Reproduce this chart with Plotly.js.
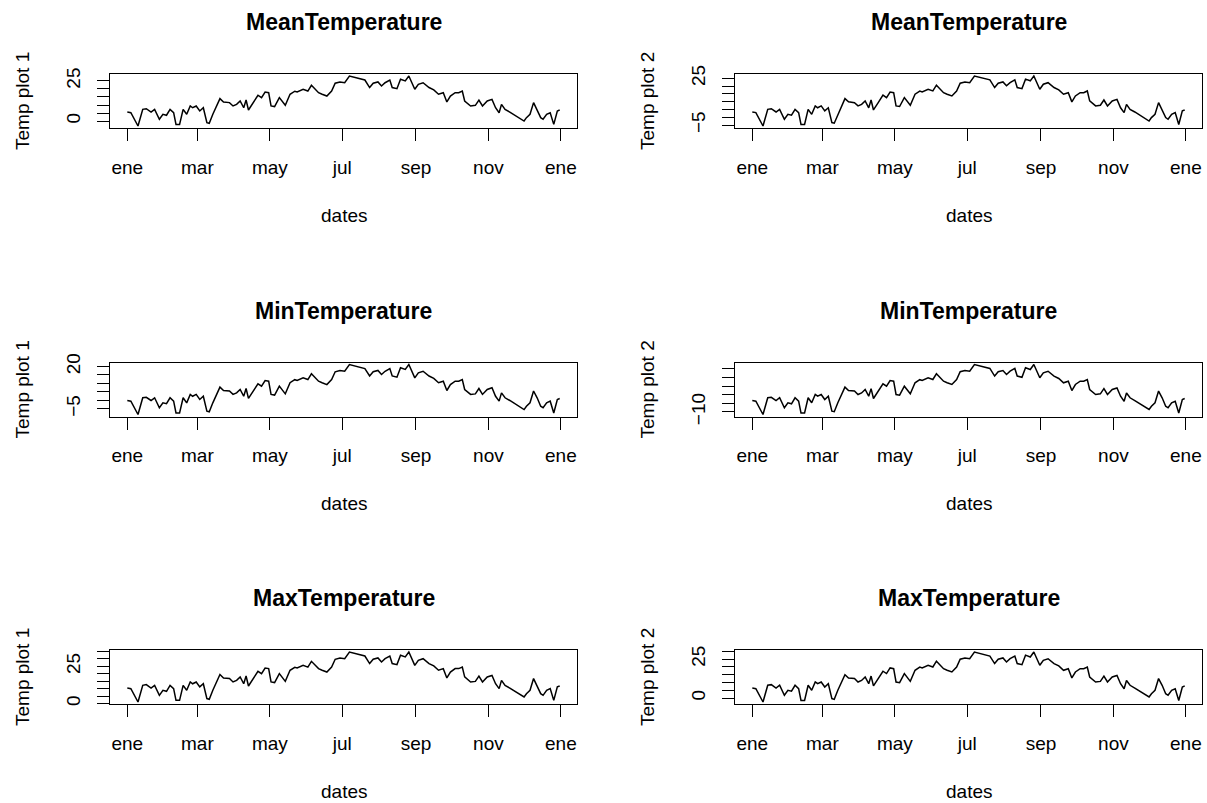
<!DOCTYPE html>
<html><head><meta charset="utf-8">
<script src="https://cdn.plot.ly/plotly-3.0.1.min.js"></script>
<style>html,body{margin:0;padding:0;background:#fff;overflow:hidden}</style>
</head><body><div id="chart" style="width:1207px;height:803px"></div>
<script>
// day of year (0 = 1 Jan) at which each value was read
const days = [0,3,9,13,16,20,23,27,30,33,36,39,41,44,47,50,53,55,58,61,64,67,69,72,78,81,86,89,92,95,98,100,102,106,110,113,116,119,121,124,128,133,137,141,143,148,152,155,158,161,164,168,172,175,179,183,187,192,196,200,204,207,211,214,217,221,223,227,230,234,237,240,242,245,249,254,258,262,266,269,272,276,279,282,284,289,293,296,299,303,307,310,313,315,318,322,327,331,334,336,339,342,345,348,350,353,356,359,362,364];

const meanTemp1 = [5.6,5.2,-3.1,7.3,7.7,5.6,7.3,1.1,4.2,3.6,7.3,5.2,-2.1,-2.1,7.3,4.2,9.4,8.3,9.4,6.3,8.3,-1.0,-1.4,4.2,14.0,11.9,11.5,9.4,10.4,12.5,8.3,13.1,6.9,11.5,16.1,14.6,18.1,17.7,9.4,9.0,14.6,9.8,16.7,18.6,18.1,19.8,18.7,22.3,19.8,17.7,16.7,15.6,18.7,23.6,24.4,23.9,28.1,27.1,26.5,25.6,20.9,23.6,24.4,21.9,23.9,25.6,20.9,20.2,26.1,25.0,28.1,22.9,19.8,22.9,23.9,20.9,19.4,16.7,17.7,11.9,15.6,17.7,17.7,18.7,12.5,9.4,9.8,13.1,9.4,12.5,13.5,8.3,5.2,10.4,7.3,5.6,3.1,1.1,0.0,2.1,4.2,11.5,7.3,2.1,1.1,4.2,5.2,-2.1,6.3,6.9];

const meanTemp2 = [3.4,3.0,-5.6,5.1,5.5,3.4,5.1,-1.3,1.9,1.3,5.1,3.0,-4.6,-4.6,5.1,1.9,7.3,6.1,7.3,4.1,6.1,-3.4,-3.8,1.9,12.0,9.9,9.4,7.3,8.3,10.5,6.1,11.1,4.7,9.4,14.2,12.6,16.2,15.8,7.3,6.9,12.6,7.7,14.8,16.8,16.2,18.0,16.9,20.6,18.0,15.8,14.8,13.7,16.9,21.9,22.7,22.2,26.5,25.5,24.9,24.0,19.1,21.9,22.7,20.2,22.2,24.0,19.1,18.4,24.5,23.4,26.5,21.2,18.0,21.2,22.2,19.1,17.6,14.8,15.8,9.9,13.7,15.8,15.8,16.9,10.5,7.3,7.7,11.1,7.3,10.5,11.5,6.1,3.0,8.3,5.1,3.4,0.8,-1.3,-2.4,-0.2,1.9,9.4,5.1,-0.2,-1.3,1.9,3.0,-4.6,4.1,4.7];

const minTemp1 = [-0.1,-0.5,-8.4,1.5,1.8,-0.1,1.5,-4.4,-1.5,-2.0,1.5,-0.5,-7.5,-7.5,1.5,-1.5,3.5,2.4,3.5,0.5,2.4,-6.4,-6.8,-1.5,7.8,5.8,5.5,3.5,4.4,6.4,2.4,7.0,1.1,5.5,9.8,8.4,11.7,11.3,3.5,3.1,8.4,3.8,10.4,12.2,11.7,13.3,12.3,15.7,13.3,11.3,10.4,9.3,12.3,16.9,17.7,17.2,21.2,20.3,19.7,18.8,14.4,16.9,17.7,15.3,17.2,18.8,14.4,13.7,19.3,18.3,21.2,16.3,13.3,16.3,17.2,14.4,13.0,10.4,11.3,5.8,9.3,11.3,11.3,12.3,6.4,3.5,3.8,7.0,3.5,6.4,7.4,2.4,-0.5,4.4,1.5,-0.1,-2.5,-4.4,-5.5,-3.5,-1.5,5.5,1.5,-3.5,-4.4,-1.5,-0.5,-7.5,0.5,1.1];

const minTemp2 = [-3.4,-3.8,-11.5,-1.8,-1.5,-3.4,-1.8,-7.6,-4.7,-5.3,-1.8,-3.8,-10.6,-10.6,-1.8,-4.7,0.1,-0.9,0.1,-2.8,-0.9,-9.6,-9.9,-4.7,4.4,2.4,2.1,0.1,1.0,3.0,-0.9,3.5,-2.2,2.1,6.3,4.9,8.2,7.8,0.1,-0.3,4.9,0.5,6.9,8.7,8.2,9.8,8.8,12.1,9.8,7.8,6.9,5.9,8.8,13.3,14.0,13.6,17.5,16.6,16.0,15.2,10.8,13.3,14.0,11.7,13.6,15.2,10.8,10.1,15.6,14.6,17.5,12.7,9.8,12.7,13.6,10.8,9.4,6.9,7.8,2.4,5.9,7.8,7.8,8.8,3.0,0.1,0.5,3.5,0.1,3.0,3.9,-0.9,-3.8,1.0,-1.8,-3.4,-5.7,-7.6,-8.6,-6.7,-4.7,2.1,-1.8,-6.7,-7.6,-4.7,-3.8,-10.6,-2.8,-2.2];

const maxTemp1 = [10.4,10.0,1.0,12.2,12.7,10.4,12.2,5.5,8.9,8.2,12.2,10.0,2.1,2.1,12.2,8.9,14.5,13.3,14.5,11.2,13.3,3.3,2.8,8.9,19.5,17.2,16.8,14.5,15.6,17.9,13.3,18.5,11.8,16.8,21.7,20.1,23.9,23.5,14.5,14.1,20.1,14.9,22.4,24.4,23.9,25.7,24.5,28.4,25.7,23.5,22.4,21.2,24.5,29.8,30.7,30.2,34.7,33.6,33.0,32.0,26.9,29.8,30.7,28.0,30.2,32.0,26.9,26.2,32.5,31.4,34.7,29.1,25.7,29.1,30.2,26.9,25.3,22.4,23.5,17.2,21.2,23.5,23.5,24.5,17.9,14.5,14.9,18.5,14.5,17.9,18.9,13.3,10.0,15.6,12.2,10.4,7.7,5.5,4.4,6.6,8.9,16.8,12.2,6.6,5.5,8.9,10.0,2.1,11.2,11.8];

const maxTemp2 = [6.4,6.0,-2.5,8.2,8.6,6.4,8.2,1.8,5.0,4.4,8.2,6.0,-1.5,-1.5,8.2,5.0,10.3,9.2,10.3,7.1,9.2,-0.3,-0.8,5.0,15.0,12.9,12.5,10.3,11.3,13.5,9.2,14.1,7.8,12.5,17.2,15.7,19.3,18.8,10.3,9.9,15.7,10.7,17.8,19.8,19.3,21.0,19.9,23.6,21.0,18.8,17.8,16.7,19.9,24.9,25.7,25.2,29.5,28.5,27.9,26.9,22.1,24.9,25.7,23.1,25.2,26.9,22.1,21.4,27.5,26.3,29.5,24.2,21.0,24.2,25.2,22.1,20.6,17.8,18.8,12.9,16.7,18.8,18.8,19.9,13.5,10.3,10.7,14.1,10.3,13.5,14.5,9.2,6.0,11.3,8.2,6.4,3.9,1.8,0.7,2.8,5.0,12.5,8.2,2.8,1.8,5.0,6.0,-1.5,7.1,7.8];

const monthTickDates = ['2019-01-01','2019-03-01','2019-05-01','2019-07-01','2019-09-01','2019-11-01','2020-01-01'];
const monthTickLabels = ['ene','mar','may','jul','sep','nov','ene'];

const panelTitles = ['MeanTemperature','MeanTemperature','MinTemperature','MinTemperature','MaxTemperature','MaxTemperature'];
const yTitles = ['Temp plot 1','Temp plot 2','Temp plot 1','Temp plot 2','Temp plot 1','Temp plot 2'];
const xTitle = 'dates';
const yTickValues = [[0,5,10,15,20,25],[-5,0,5,10,15,20,25],[-5,0,5,10,15,20],[-10,-5,0,5,10,15],[0,5,10,15,20,25,30,35],[0,5,10,15,20,25,30]];
const yTickShown = [[0,25],[-5,25],[-5,20],[-10],[0,25],[0,25]];
const seriesList = [meanTemp1, meanTemp2, minTemp1, minTemp2, maxTemp1, maxTemp2];

// ---- layout geometry (pixels) ----
const W = 1207, H = 803;
const colX = [[110, 577], [735, 1202]];
const rowY = [[74, 128], [362.5, 416.5], [650, 704]];
const FONT = 'Liberation Sans, Arial, Helvetica, sans-serif';
const FS = 19, FS_TITLE = 23;

const base = Date.UTC(2019, 0, 1);
const dates = days.map(d => new Date(base + d * 86400000).toISOString().slice(0, 10));
const fmt = v => (v < 0 ? '\u2212' + Math.abs(v) : String(v));

const traces = [], annotations = [];
const layout = {
  width: W, height: H, margin: {l: 0, r: 0, t: 0, b: 0},
  paper_bgcolor: '#fff', plot_bgcolor: '#fff', showlegend: false,
  font: {family: FONT, size: FS, color: '#000'}
};

const t0 = base + days[0] * 86400000;
const t1 = base + days[days.length - 1] * 86400000;
const tExt = 0.04 * (t1 - t0);
const xRange = [new Date(t0 - tExt).toISOString(), new Date(t1 + tExt).toISOString()];

seriesList.forEach((ys, i) => {
  const row = Math.floor(i / 2), col = i % 2;
  const sfx = i === 0 ? '' : String(i + 1);
  const [x0, x1] = colX[col];
  const [y0, y1] = rowY[row];
  const mn = Math.min(...ys), mx = Math.max(...ys);
  const ext = 0.04 * (mx - mn);
  traces.push({
    x: dates, y: ys, type: 'scatter', mode: 'lines',
    line: {color: '#000', width: 1.5},
    xaxis: 'x' + sfx, yaxis: 'y' + sfx, hoverinfo: 'skip'
  });
  layout['xaxis' + sfx] = {
    domain: [x0 / W, x1 / W], anchor: 'y' + sfx, type: 'date',
    range: xRange, showgrid: false, zeroline: false,
    showline: true, mirror: true, linecolor: '#000', linewidth: 1,
    ticks: 'outside', ticklen: 12, tickwidth: 1, tickcolor: '#000',
    tickmode: 'array', tickvals: monthTickDates, ticktext: monthTickLabels,
    ticklabelstandoff: 10,
    tickfont: {family: FONT, size: FS, color: '#000'}
  };
  layout['yaxis' + sfx] = {
    domain: [1 - y1 / H, 1 - y0 / H], anchor: 'x' + sfx,
    range: [mn - ext, mx + ext], showgrid: false, zeroline: false,
    showline: true, mirror: true, linecolor: '#000', linewidth: 1,
    ticks: 'outside', ticklen: 12, tickwidth: 1, tickcolor: '#000',
    tickmode: 'array', tickvals: yTickValues[i],
    ticktext: yTickValues[i].map(v => yTickShown[i].includes(v) ? fmt(v) : ''),
    tickangle: -90, ticklabelstandoff: 9,
    tickfont: {family: FONT, size: FS, color: '#000'}
  };
  const cx = (x0 + x1) / 2, cy = (y0 + y1) / 2;
  annotations.push({
    text: '<b>' + panelTitles[i] + '</b>', xref: 'paper', yref: 'paper',
    x: cx / W, y: 1 - (y0 - 52) / H, xanchor: 'center', yanchor: 'middle',
    showarrow: false, font: {family: FONT, size: FS_TITLE, color: '#000'}
  });
  annotations.push({
    text: xTitle, xref: 'paper', yref: 'paper',
    x: cx / W, y: 1 - (y1 + 87.5) / H, xanchor: 'center', yanchor: 'middle',
    showarrow: false, font: {family: FONT, size: FS, color: '#000'}
  });
  annotations.push({
    text: yTitles[i], xref: 'paper', yref: 'paper', textangle: -90,
    x: (x0 - 88) / W, y: 1 - cy / H, xanchor: 'center', yanchor: 'middle',
    showarrow: false, font: {family: FONT, size: FS, color: '#000'}
  });
});
layout.annotations = annotations;

Plotly.newPlot('chart', traces, layout, {staticPlot: true, displayModeBar: false});
</script>
</body></html>
